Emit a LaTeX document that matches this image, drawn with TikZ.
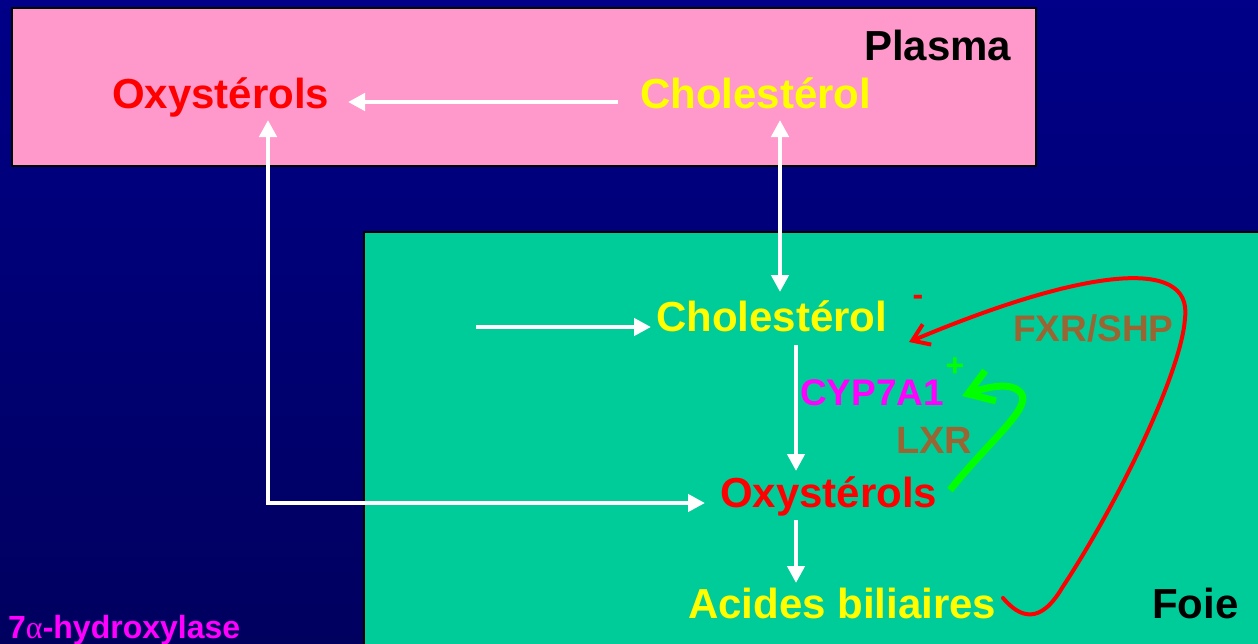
\documentclass[tikz,border=0pt]{standalone}
\usepackage{fontspec}
\setmainfont{Liberation Sans}
\newfontfamily\grkfont{Liberation Serif}
\usetikzlibrary{arrows.meta}
\newcommand\fsz[1]{\fontsize{#1}{#1}\selectfont}
\definecolor{bgtop}{RGB}{0,0,136}
\definecolor{bgbot}{RGB}{0,0,95}
\definecolor{plasmapink}{RGB}{255,153,204}
\definecolor{foiegreen}{RGB}{0,204,153}
\definecolor{brownlbl}{RGB}{153,102,51}
\definecolor{limegreen}{RGB}{0,255,0}
\definecolor{purelmag}{RGB}{255,0,255}
\definecolor{pureyel}{RGB}{255,255,0}
\definecolor{purered}{RGB}{255,0,0}
\begin{document}
\begin{tikzpicture}[x=1pt,y=-1pt,
  lbl/.style={anchor=base west, inner sep=0pt, font=\bfseries},
  wa/.style={draw=white, line width=4.5pt, -{Triangle[length=17pt,width=17pt]}},
  wab/.style={draw=white, line width=4.5pt, {Triangle[length=17pt,width=17pt]}-{Triangle[length=17pt,width=17pt]}},
  redfb/.style={draw=purered, line width=4pt, line cap=round, -{Straight Barb[length=16pt,width=22pt,line width=4pt]}},
  greenfb/.style={draw=limegreen, line width=7pt, -{Straight Barb[length=24pt,width=32pt,line width=7pt]}},
  box/.style={draw=black, line width=2pt}]
\useasboundingbox (0,0) rectangle (1258,643);
\clip (0,0) rectangle (1258,643);
\shade[top color=bgtop, bottom color=bgbot] (0,0) rectangle (1258,643);
% compartments
\path[box, fill=plasmapink] (12,8) rectangle (1036,166);
\path[box, fill=foiegreen] (364,232) rectangle (1275,660);
% texts
\node[lbl, text=purered, font=\bfseries\fsz{42}] (oxyP) at (112,108) {Oxystérols};
\node[lbl, text=pureyel, font=\bfseries\fsz{42}] (cholP) at (640,108) {Cholestérol};
\node[lbl, text=black, font=\bfseries\fsz{42}] (plasma) at (864,60) {Plasma};
\node[lbl, text=pureyel, font=\bfseries\fsz{42}] (cholF) at (656,331) {Cholestérol};
\node[inner sep=0pt, text=purered, font=\bfseries\fsz{32}] (minus) at (918,300) {-};
\node[lbl, text=brownlbl, font=\bfseries\fsz{37}] (fxr) at (1013,341) {FXR/SHP};
\node[lbl, text=purelmag, font=\bfseries\fsz{37}] (cyp) at (800,405) {CYP7A1};
\node[inner sep=0pt, text=limegreen, font=\bfseries\fsz{32}] (plus) at (955,367) {+};
\node[lbl, text=brownlbl, font=\bfseries\fsz{38}] (lxr) at (896,453) {LXR};
\node[lbl, text=purered, font=\bfseries\fsz{42}] (oxyF) at (720,507) {Oxystérols};
\node[lbl, text=pureyel, font=\bfseries\fsz{42}] (acides) at (688,618) {Acides biliaires};
\node[lbl, text=black, font=\bfseries\fsz{42}] (foie) at (1152,618) {Foie};
\node[lbl, text=purelmag, font=\bfseries\fsz{32}] (hydrox) at (8,638) {7{\grkfont\mdseries α}-hydroxylase};
% connector end points
\coordinate (pcS) at (618,102);
\coordinate (poE) at (348,102);
\coordinate (poB) at (268,120);
\coordinate (crn) at (268,503);
\coordinate (foW) at (705,503);
\coordinate (pcB) at (780,120);
\coordinate (fcT) at (780,292);
\coordinate (inS) at (476,327);
\coordinate (fcW) at (651,327);
\coordinate (fcB) at (796,345);
\coordinate (foT) at (796,471);
\coordinate (foB) at (796,520);
\coordinate (acT) at (796,583);
\coordinate (acE) at (1003,598);
\coordinate (fbT) at (909,342);
\coordinate (foE) at (950,490);
\coordinate (cyE) at (962,396);
% white arrows
\draw[wa] (pcS) -- (poE);
\draw[wab] (poB) -- (crn) -- (foW);
\draw[wab] (pcB) -- (fcT);
\draw[wa] (inS) -- (fcW);
\draw[wa] (fcB) -- (foT);
\draw[wa] (foB) -- (acT);
% feedback loops
\draw[redfb] (acE) .. controls (1020,618) and (1040,625) .. (1062,588)
  .. controls (1120,500) and (1182,370) .. (1185,318)
  .. controls (1193,255) and (1080,270) .. (fbT);
\draw[greenfb] (foE) .. controls (990,440) and (1032,408) .. (1021,393)
  .. controls (1012,382) and (990,386) .. (cyE);
\end{tikzpicture}
\end{document}
